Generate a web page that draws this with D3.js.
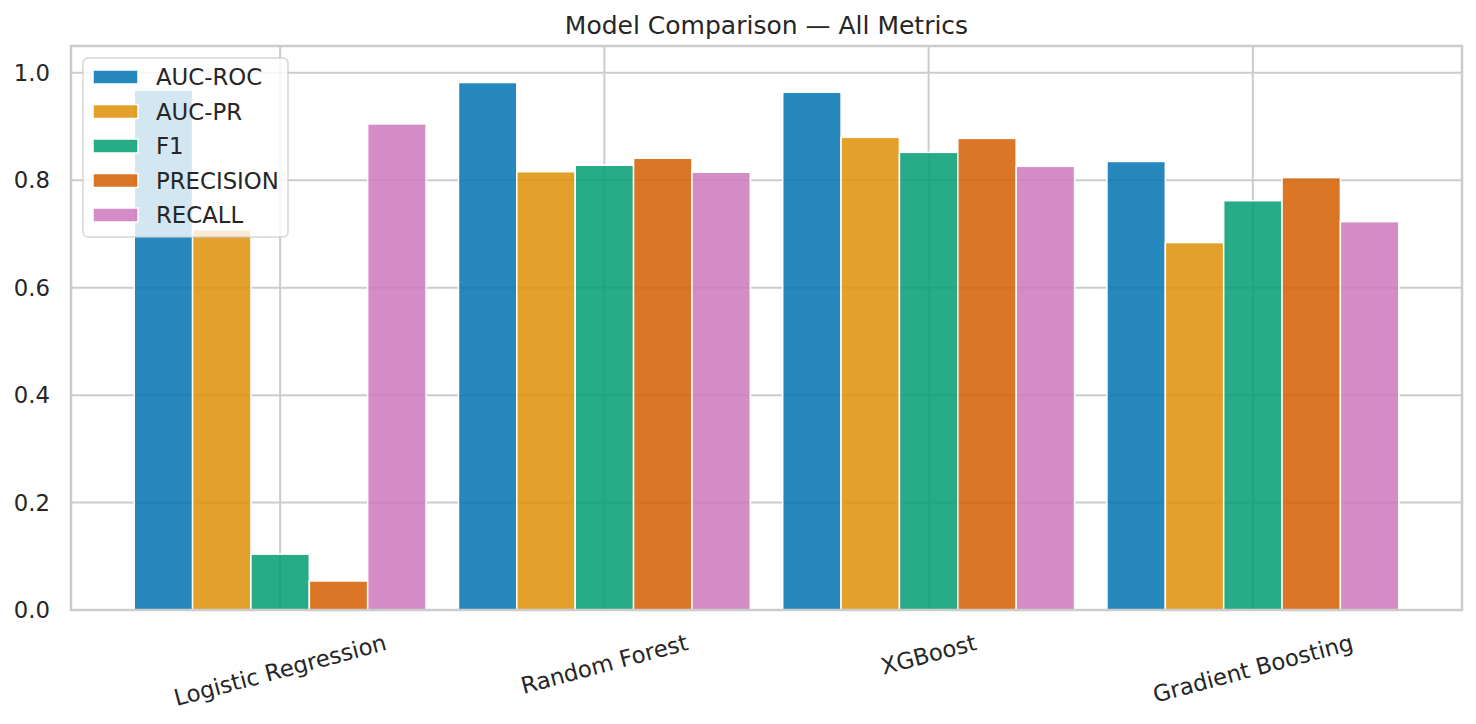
<!DOCTYPE html>
<html>
<head>
<meta charset="utf-8">
<script src="https://cdn.jsdelivr.net/npm/d3@7"></script>
<style>
  body { margin: 0; background: #fff; }
  svg text { font-family: "DejaVu Sans", sans-serif; fill: #262626; }
</style>
</head>
<body>
<div id="chart"></div>
<script>
// Data
var models = ["Logistic Regression", "Random Forest", "XGBoost", "Gradient Boosting"];
var metrics = ["AUC-ROC", "AUC-PR", "F1", "PRECISION", "RECALL"];
var aucRoc = [0.968, 0.982, 0.964, 0.835];
var aucPr = [0.708, 0.816, 0.880, 0.684];
var f1 = [0.104, 0.828, 0.852, 0.762];
var precision = [0.054, 0.841, 0.878, 0.805];
var recall = [0.905, 0.815, 0.826, 0.723];
var yTicks = [0, 0.2, 0.4, 0.6, 0.8, 1.0];
var palette = ["#0173b2", "#de8f05", "#029e73", "#d55e00", "#cc78bc"];

var series = [aucRoc, aucPr, f1, precision, recall];

// Layout
var width = 1476, height = 724;
var margins = { left: 71, right: 14, top: 46, bottom: 114 };
var barWidth = 0.18;
var fontSize = 22.8;

var svg = d3.select("#chart")
  .append("svg")
  .attr("width", width)
  .attr("height", height);

var xScale = d3.scaleLinear()
  .domain([-0.645, 3.645])
  .range([margins.left, width - margins.right]);

var yScale = d3.scaleLinear()
  .domain([0, 1.05])
  .range([height - margins.bottom, margins.top]);

// Grid
var grid = svg.append("g").attr("class", "grid");
grid.selectAll("line.h")
  .data(yTicks)
  .enter()
  .append("line")
  .attr("x1", xScale.range()[0])
  .attr("x2", xScale.range()[1])
  .attr("y1", d => yScale(d))
  .attr("y2", d => yScale(d))
  .attr("stroke", "#cccccc")
  .attr("stroke-width", 2);

grid.selectAll("line.v")
  .data(models)
  .enter()
  .append("line")
  .attr("x1", (d, i) => xScale(i))
  .attr("x2", (d, i) => xScale(i))
  .attr("y1", yScale.range()[0])
  .attr("y2", yScale.range()[1])
  .attr("stroke", "#cccccc")
  .attr("stroke-width", 2);

// Bars
var flat = [];
series.forEach(function(vals, s) {
  vals.forEach(function(v, m) {
    flat.push({ s: s, m: m, v: v });
  });
});

svg.append("g")
  .selectAll("rect")
  .data(flat)
  .enter()
  .append("rect")
  .attr("x", d => xScale(d.m + (d.s - 2) * barWidth - barWidth / 2))
  .attr("width", d => xScale(barWidth) - xScale(0))
  .attr("y", d => yScale(d.v))
  .attr("height", d => yScale(0) - yScale(d.v))
  .attr("fill", d => palette[d.s])
  .attr("fill-opacity", 0.85)
  .attr("stroke", "#ffffff")
  .attr("stroke-width", 1.5);

// Spines
svg.append("rect")
  .attr("x", xScale.range()[0])
  .attr("y", yScale.range()[1])
  .attr("width", xScale.range()[1] - xScale.range()[0])
  .attr("height", yScale.range()[0] - yScale.range()[1])
  .attr("fill", "none")
  .attr("stroke", "#cccccc")
  .attr("stroke-width", 2.5);

// Y tick labels
svg.append("g")
  .selectAll("text")
  .data(yTicks)
  .enter()
  .append("text")
  .attr("x", 50)
  .attr("y", d => yScale(d))
  .attr("dy", "0.36em")
  .attr("text-anchor", "end")
  .attr("font-size", fontSize)
  .text(d => d3.format(".1f")(d));

// X tick labels, rotated 15deg, top of rotated box under the axis
var xl = svg.append("g")
  .selectAll("text")
  .data(models)
  .enter()
  .append("text")
  .attr("text-anchor", "middle")
  .attr("dominant-baseline", "central")
  .attr("font-size", fontSize)
  .text(d => d);

xl.attr("transform", function(d, i) {
  var w = this.getComputedTextLength();
  var h = fontSize * 1.16;
  var a = 15 * Math.PI / 180;
  var boxH = w * Math.sin(a) + h * Math.cos(a);
  var yc = yScale(0) + 19 + boxH / 2;
  return "translate(" + xScale(i) + "," + yc + ") rotate(-15)";
});

// Title
svg.append("text")
  .attr("x", (xScale.range()[0] + xScale.range()[1]) / 2)
  .attr("y", 34)
  .attr("text-anchor", "middle")
  .attr("font-size", 25)
  .text("Model Comparison \u2014 All Metrics");

// Legend
var legend = svg.append("g").attr("class", "key");
legend.append("rect")
  .attr("x", 83)
  .attr("y", 58)
  .attr("width", 205)
  .attr("height", 179)
  .attr("rx", 5)
  .attr("fill", "#ffffff")
  .attr("fill-opacity", 0.8)
  .attr("stroke", "#cccccc")
  .attr("stroke-opacity", 0.8)
  .attr("stroke-width", 1.5);

var items = legend.selectAll("g.item")
  .data(metrics)
  .enter()
  .append("g")
  .attr("transform", (d, i) => "translate(0," + (77 + i * 34.5) + ")");

items.append("rect")
  .attr("x", 93)
  .attr("y", -7)
  .attr("width", 45)
  .attr("height", 14)
  .attr("fill", (d, i) => palette[i])
  .attr("fill-opacity", 0.85)
  .attr("stroke", "#ffffff")
  .attr("stroke-width", 1.5);

items.append("text")
  .attr("x", 156)
  .attr("dy", "0.36em")
  .attr("font-size", fontSize)
  .text(d => d);
</script>
</body>
</html>
